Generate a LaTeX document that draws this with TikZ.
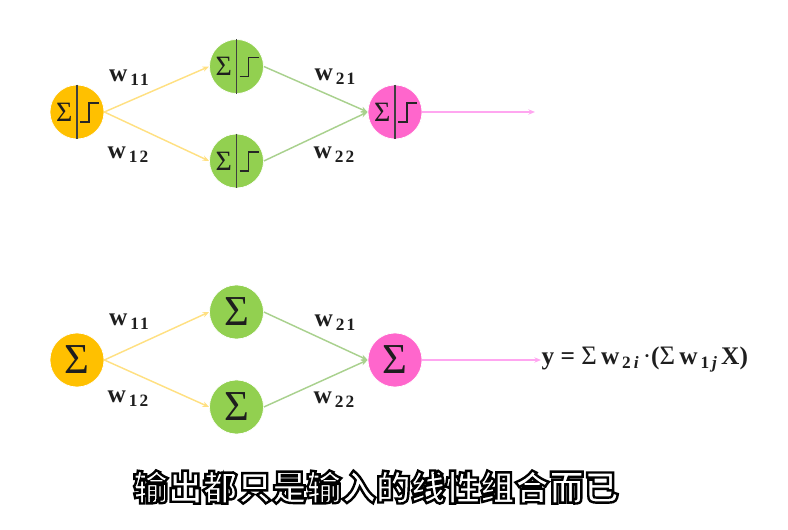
\documentclass[tikz,border=0pt]{standalone}
\usepackage{fontspec}
\usetikzlibrary{arrows.meta}
\setmainfont{Liberation Serif}
\newfontfamily\cjkfont{Noto Sans CJK SC Black}
\definecolor{sumorange}{RGB}{255,192,0}
\definecolor{hidgreen}{RGB}{146,208,80}
\definecolor{outpink}{RGB}{255,102,204}
\definecolor{lineorange}{RGB}{255,224,130}
\definecolor{linegreen}{RGB}{169,209,142}
\definecolor{linepink}{RGB}{255,166,240}
\definecolor{inkgray}{RGB}{30,30,30}
\newcommand{\wlabel}[1]{w\raisebox{-3pt}{\fontsize{13}{13}\selectfont\,\addfontfeature{LetterSpace=12}#1}}
\tikzset{every picture/.style={line width=0.75pt},
    neuron/.style={circle,minimum size=40.5pt,inner sep=0pt,draw=white,line width=0.5pt},
    smallsum/.style={inner sep=0pt,text=inkgray,font=\fontsize{21}{21}\selectfont},
    bigsum/.style={inner sep=0pt,text=inkgray,font=\fontsize{32}{32}\selectfont},
    weight/.style={inner sep=0.75pt,text=inkgray,font=\fontsize{19}{19}\selectfont\bfseries},
    divider/.style={draw=black!75,line width=0.9pt},
    stepline/.style={draw=black!85,line width=0.9pt},
    link/.style={line width=1.1pt,-{Stealth[length=5pt,width=4pt]}}
}
\begin{document}
\begin{tikzpicture}[x=0.75pt,y=0.75pt,yscale=-1,xscale=1]
    \useasboundingbox (0,0) rectangle (788,530);

    %Shape: Circle top row
    \node [neuron,fill=sumorange] (sumA) at (77,112) {};
    \node [neuron,fill=hidgreen] (hidA) at (236.5,66.5) {};
    \node [neuron,fill=hidgreen] (hidB) at (236.5,161) {};
    \node [neuron,fill=outpink] (outA) at (395,112) {};
    \coordinate (endA) at (535,112);

    %Straight Lines top row
    \draw [divider] (sumA.north) -- (sumA.south);
    \draw [divider] (hidA.north) -- (hidA.south);
    \draw [divider] (hidB.north) -- (hidB.south);
    \draw [divider] (outA.north) -- (outA.south);

    %Step curves
    \draw [stepline] ([shift={(3,10)}]sumA.center) -- ++(9,0) -- ++(0,-19) -- ++(10,0);
    \draw [stepline] ([shift={(3,10)}]hidA.center) -- ++(9,0) -- ++(0,-19) -- ++(10,0);
    \draw [stepline] ([shift={(3,10)}]hidB.center) -- ++(9,0) -- ++(0,-19) -- ++(10,0);
    \draw [stepline] ([shift={(3,10)}]outA.center) -- ++(9,0) -- ++(0,-19) -- ++(10,0);

    % Text Node
    \node [smallsum] (sigA) at ([xshift=-9.5pt]sumA.center) {Σ};
    \node [smallsum] (sigB) at ([xshift=-9.5pt]hidA.center) {Σ};
    \node [smallsum] (sigC) at ([xshift=-9.5pt]hidB.center) {Σ};
    \node [smallsum] (sigD) at ([xshift=-9.5pt]outA.center) {Σ};

    %Straight Lines top row
    \draw [link,lineorange] (sumA.east) -- (hidA.west);
    \draw [link,lineorange] (sumA.east) -- (hidB.west);
    \draw [link,linegreen] (hidA.east) -- (outA.west);
    \draw [link,linegreen] (hidB.east) -- (outA.west);
    \draw [link,linepink] (outA.east) -- (endA);

    % Text Node
    \node [weight] (wA) at (129,78) {\wlabel{11}};
    \node [weight] (wB) at (128,155) {\wlabel{12}};
    \node [weight] (wC) at (335,77) {\wlabel{21}};
    \node [weight] (wD) at (334,155) {\wlabel{22}};

    %Shape: Circle bottom row
    \node [neuron,fill=sumorange] (sumB) at (77,360) {};
    \node [neuron,fill=hidgreen] (hidC) at (236.5,312) {};
    \node [neuron,fill=hidgreen] (hidD) at (236.5,407) {};
    \node [neuron,fill=outpink] (outB) at (395,360) {};

    % Text Node
    \node [bigsum] (sigE) at (sumB.center) {Σ};
    \node [bigsum] (sigF) at (hidC.center) {Σ};
    \node [bigsum] (sigG) at (hidD.center) {Σ};
    \node [bigsum] (sigH) at (outB.center) {Σ};
    \node [weight,anchor=west,inner sep=0pt] (formula) at (541,360) {y = {\fontsize{20}{20}\selectfont\mdseries Σ}\,w\raisebox{-3pt}{\fontsize{13}{13}\selectfont\,2\,\textit{i}}\,{\mdseries·}({\fontsize{20}{20}\selectfont\mdseries Σ}\,w\raisebox{-3pt}{\fontsize{13}{13}\selectfont\,1\,\textit{j}}\,X)};

    %Straight Lines bottom row
    \draw [link,lineorange] (sumB.east) -- (hidC.west);
    \draw [link,lineorange] (sumB.east) -- (hidD.west);
    \draw [link,linegreen] (hidC.east) -- (outB.west);
    \draw [link,linegreen] (hidD.east) -- (outB.west);
    \draw [link,linepink] (outB.east) -- (formula.west);

    % Text Node
    \node [weight] (wE) at (129,322) {\wlabel{11}};
    \node [weight] (wF) at (128,399) {\wlabel{12}};
    \node [weight] (wG) at (335,323) {\wlabel{21}};
    \node [weight] (wH) at (334,400) {\wlabel{22}};

    % Text Node
    \node [inner sep=0.75pt] (caption) at (376,487) {\special{pdf:code 2 Tr 1.8 w 0 G 1 g}\cjkfont\fontsize{26}{26}\selectfont 输出都只是输入的线性组合而已\special{pdf:code 0 Tr 0 g 0 G}};
\end{tikzpicture}
\end{document}
